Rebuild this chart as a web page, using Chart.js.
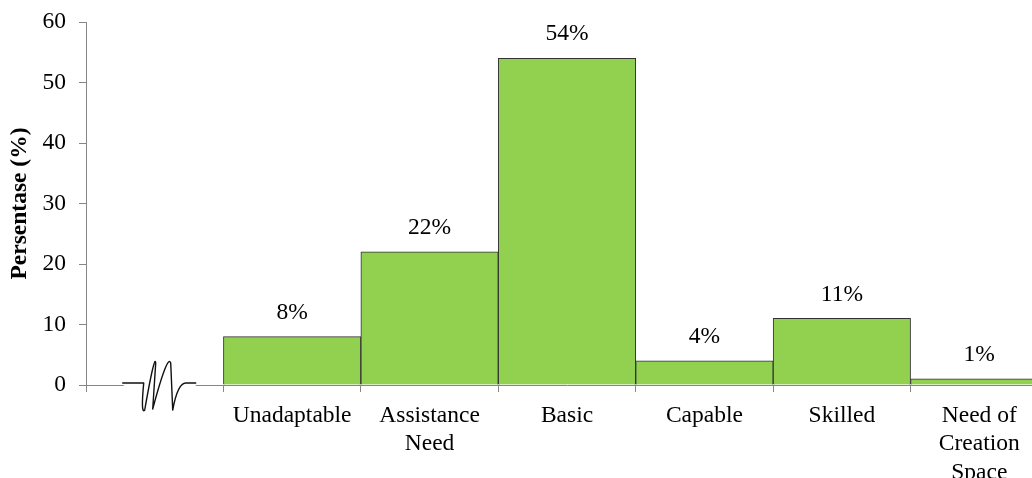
<!DOCTYPE html>
<html>
<head>
<meta charset="utf-8">
<script src="https://cdn.jsdelivr.net/npm/chart.js@4"></script>
<style>
    html, body { margin: 0; padding: 0; overflow: hidden; background: #fff; }
    #levelChart { display: block; }
</style>
</head>
<body>
<canvas id="levelChart" width="1048" height="478"></canvas>
<script>
    // first slot is left empty for the axis break
    var categories = ['', 'Unadaptable', ['Assistance', 'Need'], 'Basic', 'Capable', 'Skilled', ['Need of', 'Creation', 'Space']];
    var persen = [null, 8, 22, 54, 4, 11, 1];
    var yTicks = [0, 10, 20, 30, 40, 50, 60];

    var axisGray = '#868686';
    var fontFamily = "'Liberation Serif', 'Times New Roman', serif";

    // value labels above each bar
    const barLabels = {
        id: 'barLabels',
        afterDatasetsDraw: function(chart) {
            var ctx = chart.ctx;
            var meta = chart.getDatasetMeta(0);
            ctx.save();
            ctx.font = '23.5px ' + fontFamily;
            ctx.fillStyle = '#000';
            ctx.textAlign = 'center';
            ctx.textBaseline = 'middle';
            meta.data.forEach(function(bar, i) {
                if (persen[i] == null) return;
                ctx.fillText(persen[i] + '%', bar.x, bar.y - 24);
            });
            ctx.restore();
        }
    };

    // squiggle drawn on the x axis inside the empty slot
    const axisBreak = {
        id: 'axisBreak',
        afterDraw: function(chart) {
            var ctx = chart.ctx;
            var x = chart.scales.x.getPixelForValue(0) + 3;
            var y = chart.scales.y.getPixelForValue(0);
            ctx.save();
            ctx.fillStyle = '#fff';
            ctx.fillRect(x - 34, y - 3, 72, 6);
            ctx.strokeStyle = '#111';
            ctx.lineWidth = 1.4;
            ctx.lineJoin = 'round';
            ctx.lineCap = 'round';
            ctx.beginPath();
            ctx.moveTo(x - 35, y - 2);
            ctx.lineTo(x - 14, y - 2);
            ctx.quadraticCurveTo(x - 17, y + 30, x - 13, y + 25);
            ctx.quadraticCurveTo(x - 3, y - 32, x - 2, y - 22);
            ctx.lineTo(x - 5, y + 24);
            ctx.quadraticCurveTo(x + 10, y - 32, x + 13, y - 22);
            ctx.lineTo(x + 15, y + 25);
            ctx.quadraticCurveTo(x + 20, y - 2, x + 28, y - 2);
            ctx.lineTo(x + 38, y - 2);
            ctx.stroke();
            ctx.restore();
        }
    };

    const ctx = document.getElementById('levelChart');
    const levelChart = new Chart(ctx, {
        type: 'bar',
        data: {
            labels: categories,
            datasets: [{
                data: persen,
                backgroundColor: '#92D050',
                borderColor: '#333333',
                borderWidth: 1,
                barPercentage: 1,
                categoryPercentage: 1
            }]
        },
        options: {
            responsive: false,
            animation: false,
            layout: {
                padding: { top: 22, left: 0, right: 0, bottom: 0 }
            },
            plugins: {
                legend: { display: false },
                tooltip: { enabled: false }
            },
            scales: {
                x: {
                    afterFit: function(scale) { scale.height = 93; },
                    border: { color: axisGray, width: 1 },
                    grid: {
                        offset: true,
                        drawOnChartArea: false,
                        drawTicks: true,
                        tickLength: 7,
                        color: axisGray
                    },
                    ticks: {
                        color: '#000',
                        font: { family: fontFamily, size: 23.5, lineHeight: 1.22 },
                        padding: 9,
                        maxRotation: 0,
                        autoSkip: false
                    }
                },
                y: {
                    min: 0,
                    max: 60,
                    afterFit: function(scale) {
                        scale.width = 86;
                        scale.paddingTop = 0;
                        scale.paddingBottom = 0;
                    },
                    afterBuildTicks: function(scale) {
                        scale.ticks = yTicks.map(function(v) { return { value: v }; });
                    },
                    border: { color: axisGray, width: 1 },
                    grid: {
                        drawOnChartArea: false,
                        drawTicks: true,
                        tickLength: 7,
                        color: axisGray
                    },
                    ticks: {
                        color: '#000',
                        font: { family: fontFamily, size: 23.5, lineHeight: 1 },
                        padding: 13
                    },
                    title: {
                        display: true,
                        text: 'Persentase (%)',
                        color: '#000',
                        font: { family: fontFamily, size: 23.5, weight: 'bold', lineHeight: 1.2 },
                        padding: { top: 6, bottom: 0 }
                    }
                }
            }
        },
        plugins: [barLabels, axisBreak]
    });
</script>
</body>
</html>
